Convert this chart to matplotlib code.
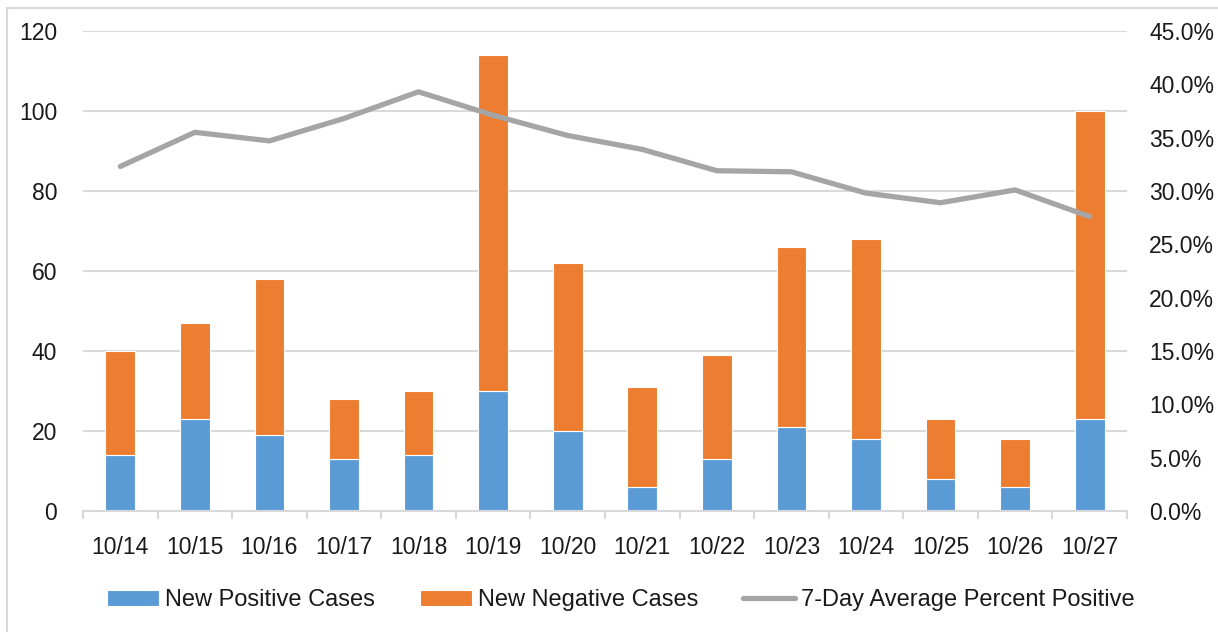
import matplotlib.pyplot as plt
from matplotlib.patches import Rectangle
from matplotlib.ticker import FuncFormatter, MultipleLocator
import numpy as np

plt.rcParams['font.family'] = ['Liberation Sans', 'DejaVu Sans']

# dados
datas = ["10/14", "10/15", "10/16", "10/17", "10/18", "10/19", "10/20",
         "10/21", "10/22", "10/23", "10/24", "10/25", "10/26", "10/27"]
positivos = [14, 23, 19, 13, 14, 30, 20, 6, 13, 21, 18, 8, 6, 23]
negativos = [26, 24, 39, 15, 16, 84, 42, 25, 26, 45, 50, 15, 12, 77]
media_7d = [32.3, 35.5, 34.7, 36.8, 39.3, 37.1, 35.2,
            33.9, 31.9, 31.8, 29.8, 28.9, 30.1, 27.6]

azul = "#5B9BD5"
laranja = "#ED7D31"
cinza = "#A5A5A5"
grade = "#D9D9D9"
texto = "#1a1a1a"

fig = plt.figure(figsize=(12.18, 6.32), dpi=100)
ax = fig.add_axes([83 / 1218, 121 / 632, 1044 / 1218, 480 / 632])

x = np.arange(len(datas))
b1 = ax.bar(x, positivos, width=0.4, color=azul, edgecolor="white",
            linewidth=0.8, label="New Positive Cases", zorder=2)
b2 = ax.bar(x, negativos, width=0.4, bottom=positivos, color=laranja,
            edgecolor="white", linewidth=0.8, label="New Negative Cases", zorder=2)

ax.set_xlim(-0.5, len(datas) - 0.5)
ax.set_ylim(0, 120)
ax.yaxis.set_major_locator(MultipleLocator(20))
ax.grid(axis="y", color=grade, linewidth=1.5, zorder=0)
ax.set_axisbelow(True)
for s in ["left", "right", "top"]:
    ax.spines[s].set_visible(False)
ax.spines["bottom"].set_color(grade)
ax.spines["bottom"].set_linewidth(1.5)

ax.set_xticks(x)
ax.set_xticklabels(datas)
ax.set_xticks(np.arange(-0.5, len(datas)), minor=True)
ax.tick_params(axis="x", which="major", length=0, pad=18, labelsize=16.5,
               labelcolor=texto)
ax.tick_params(axis="x", which="minor", length=6, width=1.5, color=grade)
ax.tick_params(axis="y", length=0, pad=18.5, labelsize=16.5, labelcolor=texto)

ax2 = ax.twinx()
linha, = ax2.plot(x, media_7d, color=cinza, linewidth=3.8,
                  solid_capstyle="round", solid_joinstyle="round",
                  label="7-Day Average Percent Positive")
ax2.set_ylim(0, 45)
ax2.yaxis.set_major_locator(MultipleLocator(5))
ax2.yaxis.set_major_formatter(FuncFormatter(lambda v, p: f"{v:.1f}%"))
ax2.tick_params(axis="y", length=0, pad=16, labelsize=16.5, labelcolor=texto)
for s in ["left", "right", "top", "bottom"]:
    ax2.spines[s].set_visible(False)

fig.legend(handles=[b1, b2, linha], loc="center",
           bbox_to_anchor=(621 / 1218, 32 / 632), ncol=3, frameon=False,
           fontsize=17, handlelength=2.2, handleheight=0.65,
           handletextpad=0.25, columnspacing=1.9, labelcolor=texto)

# moldura do grafico
fig.patches.append(Rectangle((7 / 1218, -0.1), 1.2, (632 - 8) / 632 + 0.1,
                             transform=fig.transFigure, fill=False,
                             edgecolor=grade, linewidth=1.5))

fig.savefig("out.png", dpi=100)
